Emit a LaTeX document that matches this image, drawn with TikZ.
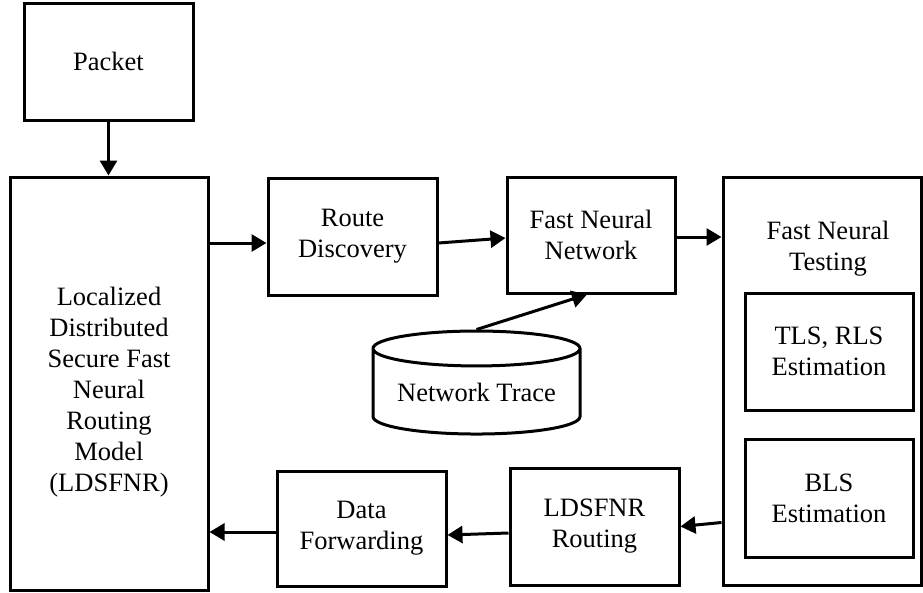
\documentclass[tikz,border=0pt]{standalone}
\usepackage{fontspec}
\setmainfont{Liberation Serif}
\usetikzlibrary{arrows.meta, shapes.geometric}

\begin{document}
\begin{tikzpicture}[>={Triangle[length=15pt,width=17pt]}, x=1pt, y=-1pt,
  line width=3pt,
  font=\fontsize{26.5}{31}\selectfont,
  blk/.style={draw, align=center, inner sep=0pt, minimum width=169pt, minimum height=117pt},
  tall/.style={draw, align=center, inner sep=0pt, minimum width=198pt}]
\useasboundingbox (0,0) rectangle (923,592);
% left column
\node[blk] (packet) at (108.5,61.5) {Packet};
\node[tall, minimum height=413pt] (model) at (109,383.5) {};
\node[align=center] at ([yshift=-9pt]model.center)
  {Localized\\Distributed\\Secure Fast\\Neural\\Routing\\Model\\(LDSFNR)};
% upper row
\node[blk] (route) at (352.5,236.5) {Route\\Discovery};
\node[blk, minimum width=168pt, minimum height=116pt] (fnn) at (591,235) {Fast Neural\\Network};
\node[draw, cylinder, shape border rotate=90, aspect=0.22, align=center,
  minimum width=207pt, minimum height=103pt, inner sep=0pt] (trace) at (476.5,392) {Network Trace};
% testing block
\node[tall, minimum height=408pt] (testing) at (822,381) {};
\node[align=center] at (828,249) {Fast Neural\\Testing};
\node[blk, minimum width=168pt] (tls) at (829,351.5) {TLS, RLS\\Estimation};
\node[blk, minimum width=168pt, minimum height=118pt] (bls) at (829,498) {BLS\\Estimation};
% lower row
\node[blk] (routing) at (594.5,526.5) {LDSFNR\\Routing};
\node[blk, minimum height=115pt] (forward) at (361.5,528.5) {Data\\Forwarding};
% connectors
\draw[->] (packet) -- (packet |- model.north);
\draw[->] ([yshift=-6.5pt]model.east |- route.west) -- ([yshift=-6.5pt]route.west);
\draw[->] ([yshift=-6.5pt]route.east) -- ([yshift=-3pt]fnn.west);
\draw[->] ([yshift=-2pt]fnn.east) -- ([yshift=-2pt]fnn.east -| testing.west);
\draw[->] (trace.north) -- ([xshift=-4pt]fnn.south);
\draw[->] ([yshift=4pt]routing.east -| testing.west) -- (routing.east);
\draw[->] ([yshift=-6.5pt]routing.west) -- ([yshift=-6.5pt]forward.east);
\draw[->] ([yshift=-3.5pt]forward.west) -- ([yshift=-3.5pt]forward.west -| model.east);
\end{tikzpicture}
\end{document}
